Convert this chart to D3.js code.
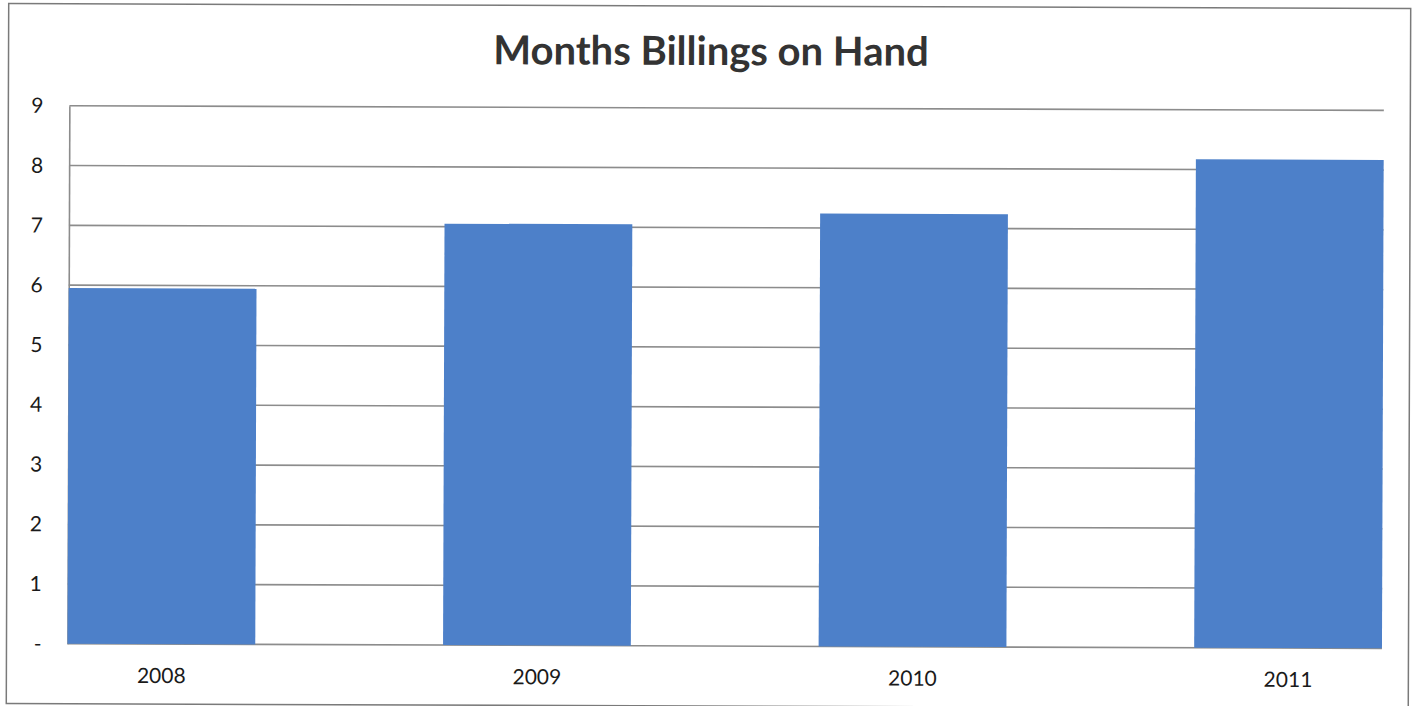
<!DOCTYPE html>
<html>
<head>
<meta charset="utf-8">
<script src="https://cdn.jsdelivr.net/npm/d3@7"></script>
<style>
  html, body { margin: 0; padding: 0; background: #fff; }
  svg { display: block; }
</style>
</head>
<body>
<svg id="chart" width="1414" height="706"></svg>
<script>
// Months of billings on hand, by year
const years = ["2008", "2009", "2010", "2011"];
const monthsOnHand = [5.95, 7.05, 7.24, 8.17];
const yTicks = [0, 1, 2, 3, 4, 5, 6, 7, 8, 9];
const yTickLabels = ["-", "1", "2", "3", "4", "5", "6", "7", "8", "9"];
const title = "Months Billings on Hand";

const W = 1414, H = 706;
const margin = { left: 68.5, right: 31, top: 108, bottom: 60 };
const font = "Lato, 'Open Sans', sans-serif";

const svg = d3.select("#chart");
// the printed sheet sits very slightly askew
const g = svg.append("g").attr("transform", `rotate(0.2 ${W / 2} ${H / 2})`);

// outer chart frame
g.append("rect")
  .attr("x", 7.5).attr("y", 6).attr("width", 1402).attr("height", 700)
  .attr("fill", "none").attr("stroke", "#7a7a7a").attr("stroke-width", 1.5);

const x = d3.scaleBand()
  .domain(years)
  .range([margin.left, W - margin.right])
  .paddingInner(0.5)
  .paddingOuter(0);

const y = d3.scaleLinear()
  .domain([0, 9])
  .range([H - margin.bottom, margin.top]);

// horizontal gridlines (including baseline)
g.append("g")
  .selectAll("line")
  .data(yTicks)
  .join("line")
  .attr("x1", margin.left).attr("x2", W - margin.right)
  .attr("y1", d => y(d)).attr("y2", d => y(d))
  .attr("stroke", "#8c8c8c").attr("stroke-width", 1.6);

// left value axis
const yAxis = d3.axisLeft(y)
  .tickValues(yTicks)
  .tickFormat((d, i) => yTickLabels[i])
  .tickSize(0)
  .tickPadding(26);

const ya = g.append("g")
  .attr("transform", `translate(${margin.left},0)`)
  .call(yAxis);
ya.select(".domain").attr("stroke", "#8c8c8c").attr("stroke-width", 1.6);
ya.selectAll("text")
  .attr("font-family", font).attr("font-size", 21).attr("fill", "#1a1a1a");

// bars
g.append("g")
  .selectAll("rect")
  .data(monthsOnHand)
  .join("rect")
  .attr("x", (d, i) => x(years[i]))
  .attr("width", x.bandwidth())
  .attr("y", d => y(d))
  .attr("height", d => y(0) - y(d))
  .attr("fill", "#4d80c9");

// category axis labels
const xAxis = d3.axisBottom(x).tickSize(0).tickPadding(24);
const xa = g.append("g")
  .attr("transform", `translate(0,${y(0)})`)
  .call(xAxis);
xa.select(".domain").remove();
xa.selectAll("text")
  .attr("font-family", font).attr("font-size", 21).attr("fill", "#1a1a1a");

// title
g.append("text")
  .attr("x", 710).attr("y", 65)
  .attr("text-anchor", "middle")
  .attr("font-family", font).attr("font-weight", "bold")
  .attr("font-size", 40).attr("fill", "#333")
  .text(title);
</script>
</body>
</html>
